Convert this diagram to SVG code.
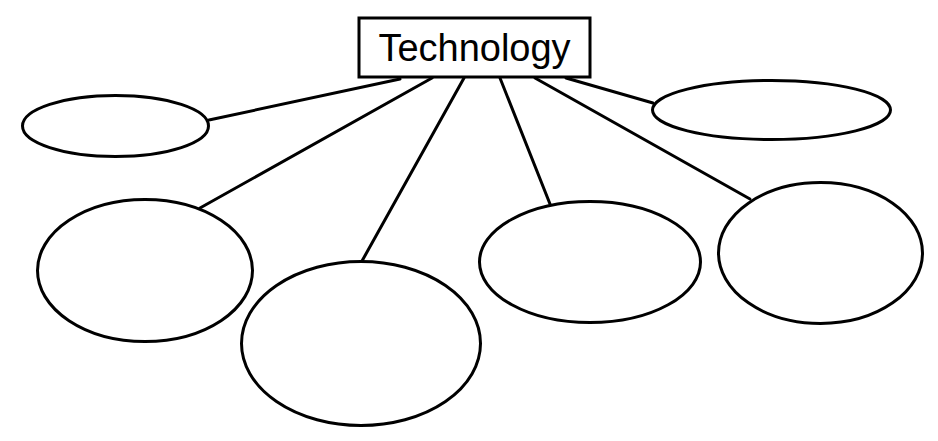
<svg xmlns="http://www.w3.org/2000/svg" width="938" height="441" viewBox="0 0 938 441">
<style>
.n{fill:#fff;stroke:#000;stroke-width:3}
.c line{stroke:#000;stroke-width:3;stroke-linecap:round}
text{font-family:"Liberation Sans",Arial,sans-serif;font-size:38px;fill:#000}
</style>
<rect width="938" height="441" fill="#fff"/>
<g class="c" id="connectors">
<line x1="400" y1="79" x2="209" y2="120"/>
<line x1="432" y1="78" x2="200" y2="208"/>
<line x1="464" y1="78" x2="362" y2="261"/>
<line x1="500" y1="78" x2="550" y2="204"/>
<line x1="535" y1="78" x2="750" y2="199"/>
<line x1="566" y1="78" x2="653" y2="103"/>
</g>
<g id="technology">
<rect class="n" x="359" y="18" width="231" height="59"/>
<text x="474.5" y="61" text-anchor="middle">Technology</text>
</g>
<g id="e1"><ellipse class="n" cx="115.5" cy="126" rx="93" ry="30.5"/></g>
<g id="e2"><ellipse class="n" cx="771.5" cy="110" rx="119" ry="29.5"/></g>
<g id="e3"><ellipse class="n" cx="145" cy="270.5" rx="107.5" ry="71"/></g>
<g id="e4"><ellipse class="n" cx="361" cy="343.5" rx="119.5" ry="82"/></g>
<g id="e5"><ellipse class="n" cx="590" cy="262" rx="110.5" ry="60.5"/></g>
<g id="e6"><ellipse class="n" cx="820.5" cy="253" rx="102" ry="70.5"/></g>
</svg>
